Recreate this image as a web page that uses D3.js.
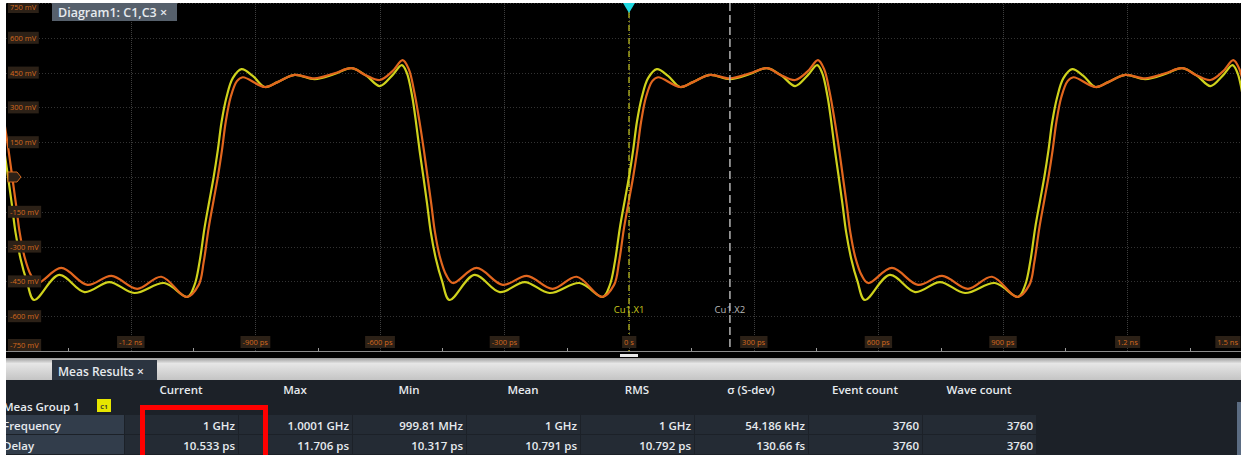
<!DOCTYPE html>
<html lang="en">
<head>
<meta charset="UTF-8">
<title>Diagram1: C1,C3 - Meas Results</title>
<script src="https://d3js.org/d3.v7.min.js"></script>
<style>
  html, body { margin: 0; padding: 0; background: #fff; }
  svg { display: block; }
  .grid line { shape-rendering: crispEdges; }
  .grid path { display: none; }
  .tbl { font-family: "Open Sans", "Noto Sans", sans-serif; font-size: 11.5px; font-weight: 600; fill: #e6eaee; }
</style>
</head>
<body>
<svg id="chart"></svg>
<script>
const W = 1241, H = 455;

// one period of each trace (time in ps from the C1 rising edge, level in mV)
const periodPs = 1000;
const periods = [-2, -1, 0, 1];
const c1Time = [-63, -46, -34, -22, -10, 0, 10, 19, 31, 46, 67, 94, 123, 154, 195, 243, 291, 332, 368, 400, 429, 453, 465, 478, 488, 496, 505, 514, 523, 535, 550, 568, 628, 689, 749, 809, 881];
const c1Level = [-517, -465, -366, -219, -99, 0, 116, 237, 345, 426, 465, 436, 388, 409, 440, 422, 444, 469, 436, 392, 436, 482, 449, 347, 224, 112, 0, -117, -240, -352, -449, -530, -422, -496, -453, -500, -457];
const c3Time = [-65, -36, -24, -12, 0, 10, 20, 29, 41, 56, 70, 123, 154, 195, 243, 291, 332, 365, 400, 430, 455, 470, 483, 495, 506, 515, 524, 533, 545, 560, 576, 633, 696, 754, 816, 874];
const c3Level = [-517, -465, -366, -219, -99, 0, 116, 237, 345, 413, 430, 388, 409, 440, 425, 447, 469, 440, 418, 455, 504, 464, 367, 245, 117, 0, -117, -240, -347, -423, -457, -392, -465, -426, -482, -430];

// axes
const yTicks = [-750, -600, -450, -300, -150, 0, 150, 300, 450, 600, 750];
const yTickLabels = ["-750 mV", "-600 mV", "-450 mV", "-300 mV", "-150 mV", "", "150 mV", "300 mV", "450 mV", "600 mV", "750 mV"];
const xTicks = [-1200, -900, -600, -300, 0, 300, 600, 900, 1200, 1500];
const xTickLabels = ["-1.2 ns", "-900 ps", "-600 ps", "-300 ps", "0 s", "300 ps", "600 ps", "900 ps", "1.2 ns", "1.5 ns"];
const xMinorTicks = [-1350, -1050, -750, -450, -150, 150, 450, 750, 1050, 1350];
const cursorX1 = 0, cursorX2 = 243;

// measurement table
const columns = ["Current", "Max", "Min", "Mean", "RMS", "σ (S-dev)", "Event count", "Wave count"];
const rowNames = ["Frequency", "Delay"];
const frequencyRow = ["1 GHz", "1.0001 GHz", "999.81 MHz", "1 GHz", "1 GHz", "54.186 kHz", "3760", "3760"];
const delayRow = ["10.533 ps", "11.706 ps", "10.317 ps", "10.791 ps", "10.792 ps", "130.66 fs", "3760", "3760"];

const svg = d3.select('#chart').attr('width', W).attr('height', H);

const plot = { left: 6, top: 3, right: W, bottom: 358 };
const x = d3.scaleLinear().domain([-1500, 1500]).range([6, 1252]);
const y = d3.scaleLinear().domain([-750, 750]).range([351, 3]);

// background of the diagram
svg.append('rect').attr('x', plot.left).attr('y', plot.top)
  .attr('width', plot.right - plot.left).attr('height', plot.bottom - plot.top).attr('fill', '#000');

svg.append('defs').append('clipPath').attr('id', 'plotclip')
  .append('rect').attr('x', plot.left).attr('y', plot.top)
  .attr('width', plot.right - plot.left).attr('height', 351 - plot.top);

// grid
svg.append('g').attr('class', 'grid')
  .attr('transform', `translate(${plot.left},0)`)
  .call(d3.axisLeft(y).tickValues(yTicks).tickSize(-(plot.right - plot.left)).tickFormat(''))
  .selectAll('line').attr('stroke', '#333').attr('stroke-dasharray', '1,2');

svg.append('g').attr('class', 'grid')
  .attr('transform', `translate(0,351)`)
  .call(d3.axisBottom(x).tickValues(xTicks).tickSize(-(351 - plot.top)).tickFormat(''))
  .selectAll('line').attr('stroke', '#3e3e3e').attr('stroke-dasharray', '1,1');

// time axis line with minor ticks
svg.append('line').attr('x1', plot.left).attr('x2', plot.right).attr('y1', 351.5).attr('y2', 351.5)
  .attr('stroke', '#8c8c8c').attr('stroke-width', 1);
svg.append('g').attr('class', 'grid')
  .attr('transform', `translate(0,351)`)
  .call(d3.axisBottom(x).tickValues(xMinorTicks).tickSize(-3).tickFormat(''))
  .selectAll('line').attr('stroke', '#9a9a9a');

// traces
const tile = (times, levels) => periods.flatMap(k => times.map((t, i) => ({ t: t + k * periodPs, v: levels[i] })));
const line = d3.line().x(d => x(d.t)).y(d => y(d.v)).curve(d3.curveCatmullRom.alpha(0.5));

const traces = svg.append('g').attr('clip-path', 'url(#plotclip)');
traces.append('path').datum(tile(c1Time, c1Level))
  .attr('d', line).attr('fill', 'none').attr('stroke', '#cfd21c').attr('stroke-width', 2.2);
traces.append('path').datum(tile(c3Time, c3Level))
  .attr('d', line).attr('fill', 'none').attr('stroke', '#e2661e').attr('stroke-width', 2.2);

// cursors
svg.append('line').attr('x1', x(cursorX1)).attr('x2', x(cursorX1)).attr('y1', 12).attr('y2', 351)
  .attr('stroke', '#c8c81e').attr('stroke-width', 1.2).attr('stroke-dasharray', '6,3,1,3');
svg.append('line').attr('x1', x(cursorX2)).attr('x2', x(cursorX2)).attr('y1', plot.top).attr('y2', 351)
  .attr('stroke', '#b4b4b4').attr('stroke-width', 1.5).attr('stroke-dasharray', '8,4');
svg.append('text').attr('x', x(cursorX1)).attr('y', 313).attr('text-anchor', 'middle')
  .style('font', '9.5px "Open Sans", sans-serif').attr('fill', '#c8c81e').text('Cu1.X1');
svg.append('text').attr('x', x(cursorX2)).attr('y', 313).attr('text-anchor', 'middle')
  .style('font', '9.5px "Open Sans", sans-serif').attr('fill', '#b8b8b8').text('Cu1.X2');

// trigger marker
svg.append('path')
  .attr('d', `M${x(0) - 6},${plot.top} L${x(0) + 6},${plot.top} L${x(0)},${plot.top + 10} Z`)
  .attr('fill', '#22d8e0');

// axis labels with dark boxes
function boxedLabel(g, tx, ty, text, anchor) {
  const t = g.append('text').attr('x', tx).attr('y', ty).attr('text-anchor', anchor)
    .attr('dominant-baseline', 'central')
    .style('font', '7.5px "Open Sans", sans-serif').attr('fill', '#d4691e').text(text);
  const b = t.node().getBBox();
  g.insert('rect', 'text').attr('x', b.x - 2).attr('y', b.y - 1)
    .attr('width', b.width + 4).attr('height', b.height + 2).attr('fill', '#2c2117');
}
const yLab = svg.append('g');
yTicks.forEach((v, i) => {
  if (!yTickLabels[i]) return;
  const g = yLab.append('g');
  boxedLabel(g, 10, Math.max(7, Math.min(345, y(v))), yTickLabels[i], 'start');
});
const xLab = svg.append('g');
xTicks.forEach((v, i) => {
  const g = xLab.append('g');
  if (x(v) > W - 15) boxedLabel(g, W - 3, 342, xTickLabels[i], 'end');
  else boxedLabel(g, x(v), 342, xTickLabels[i], 'middle');
});

// channel offset marker at 0 V
svg.append('path')
  .attr('d', `M8,${y(0) - 5} L17,${y(0) - 5} L21,${y(0)} L17,${y(0) + 5} L8,${y(0) + 5} Z`)
  .attr('fill', '#2c2117').attr('stroke', '#d4691e').attr('stroke-width', 1);

// diagram tab
svg.append('rect').attr('x', 52).attr('y', plot.top).attr('width', 125).attr('height', 18).attr('fill', '#56606c');
svg.append('text').attr('x', 58).attr('y', 17).attr('class', 'tbl')
  .style('font-size', '12.5px').attr('fill', '#eef0f2').text('Diagram1: C1,C3 ×');

// splitter and tab bar
svg.append('rect').attr('x', 620).attr('y', 354).attr('width', 18).attr('height', 3).attr('fill', '#e8e8e8');
const grad = svg.select('defs').append('linearGradient').attr('id', 'tabbar').attr('x1', 0).attr('x2', 0).attr('y1', 0).attr('y2', 1);
grad.append('stop').attr('offset', 0).attr('stop-color', '#9c9c9c');
grad.append('stop').attr('offset', 0.25).attr('stop-color', '#e6e6e6');
grad.append('stop').attr('offset', 1).attr('stop-color', '#c4c4c4');
svg.append('rect').attr('x', 0).attr('y', 358).attr('width', W).attr('height', 22).attr('fill', 'url(#tabbar)');
svg.append('rect').attr('x', 52).attr('y', 360).attr('width', 105).attr('height', 20).attr('fill', '#2b3440');
svg.append('text').attr('x', 58).attr('y', 376).attr('class', 'tbl').style('font-size', '12px').text('Meas Results ×');

// table
svg.append('rect').attr('x', 0).attr('y', 380).attr('width', W).attr('height', H - 380).attr('fill', '#1c2128');

const col = d3.scaleBand().domain(columns).range([124, 1036]);
const rowY = d3.scaleBand().domain(rowNames).range([415, 455]);

svg.append('g').selectAll('text').data(columns).join('text')
  .attr('class', 'tbl').attr('x', d => col(d) + col.bandwidth() / 2).attr('y', 394)
  .attr('text-anchor', 'middle').text(d => d);

svg.append('text').attr('class', 'tbl').attr('x', 3).attr('y', 411).text('Meas Group 1');
svg.append('rect').attr('x', 97).attr('y', 399).attr('width', 14).attr('height', 13).attr('fill', '#e6e600');
svg.append('text').attr('x', 104).attr('y', 408.5).attr('text-anchor', 'middle')
  .style('font', 'bold 6px "Open Sans", sans-serif').attr('fill', '#333').text('C1');

[frequencyRow, delayRow].forEach((vals, r) => {
  const name = rowNames[r];
  const ry = rowY(name);
  const g = svg.append('g');
  g.append('rect').attr('x', 0).attr('y', ry).attr('width', 124).attr('height', rowY.bandwidth() - 1).attr('fill', '#323d4b');
  g.append('text').attr('class', 'tbl').attr('x', 3).attr('y', ry + 15).text(name);
  g.selectAll('rect.cell').data(vals).join('rect').attr('class', 'cell')
    .attr('x', (d, i) => col(columns[i]) + 1).attr('y', ry)
    .attr('width', col.bandwidth() - 1).attr('height', rowY.bandwidth() - 1).attr('fill', '#242b34');
  g.selectAll('text.val').data(vals).join('text').attr('class', 'tbl val')
    .attr('x', (d, i) => col(columns[i]) + col.bandwidth() - 3).attr('y', ry + 15)
    .attr('text-anchor', 'end').text(d => d);
});

svg.append('rect').attr('x', 1237).attr('y', 402).attr('width', 4).attr('height', H - 402).attr('fill', '#5b6c82');

// highlight box around the current values
svg.append('rect').attr('x', col('Current') + 18.5).attr('y', 407.5).attr('width', 123).attr('height', 60)
  .attr('fill', 'none').attr('stroke', '#ff0000').attr('stroke-width', 5);

// white screenshot margins
svg.append('rect').attr('x', 0).attr('y', 0).attr('width', W).attr('height', plot.top).attr('fill', '#fff');
svg.append('rect').attr('x', 0).attr('y', 0).attr('width', plot.left).attr('height', H).attr('fill', '#fff');
</script>
</body>
</html>
